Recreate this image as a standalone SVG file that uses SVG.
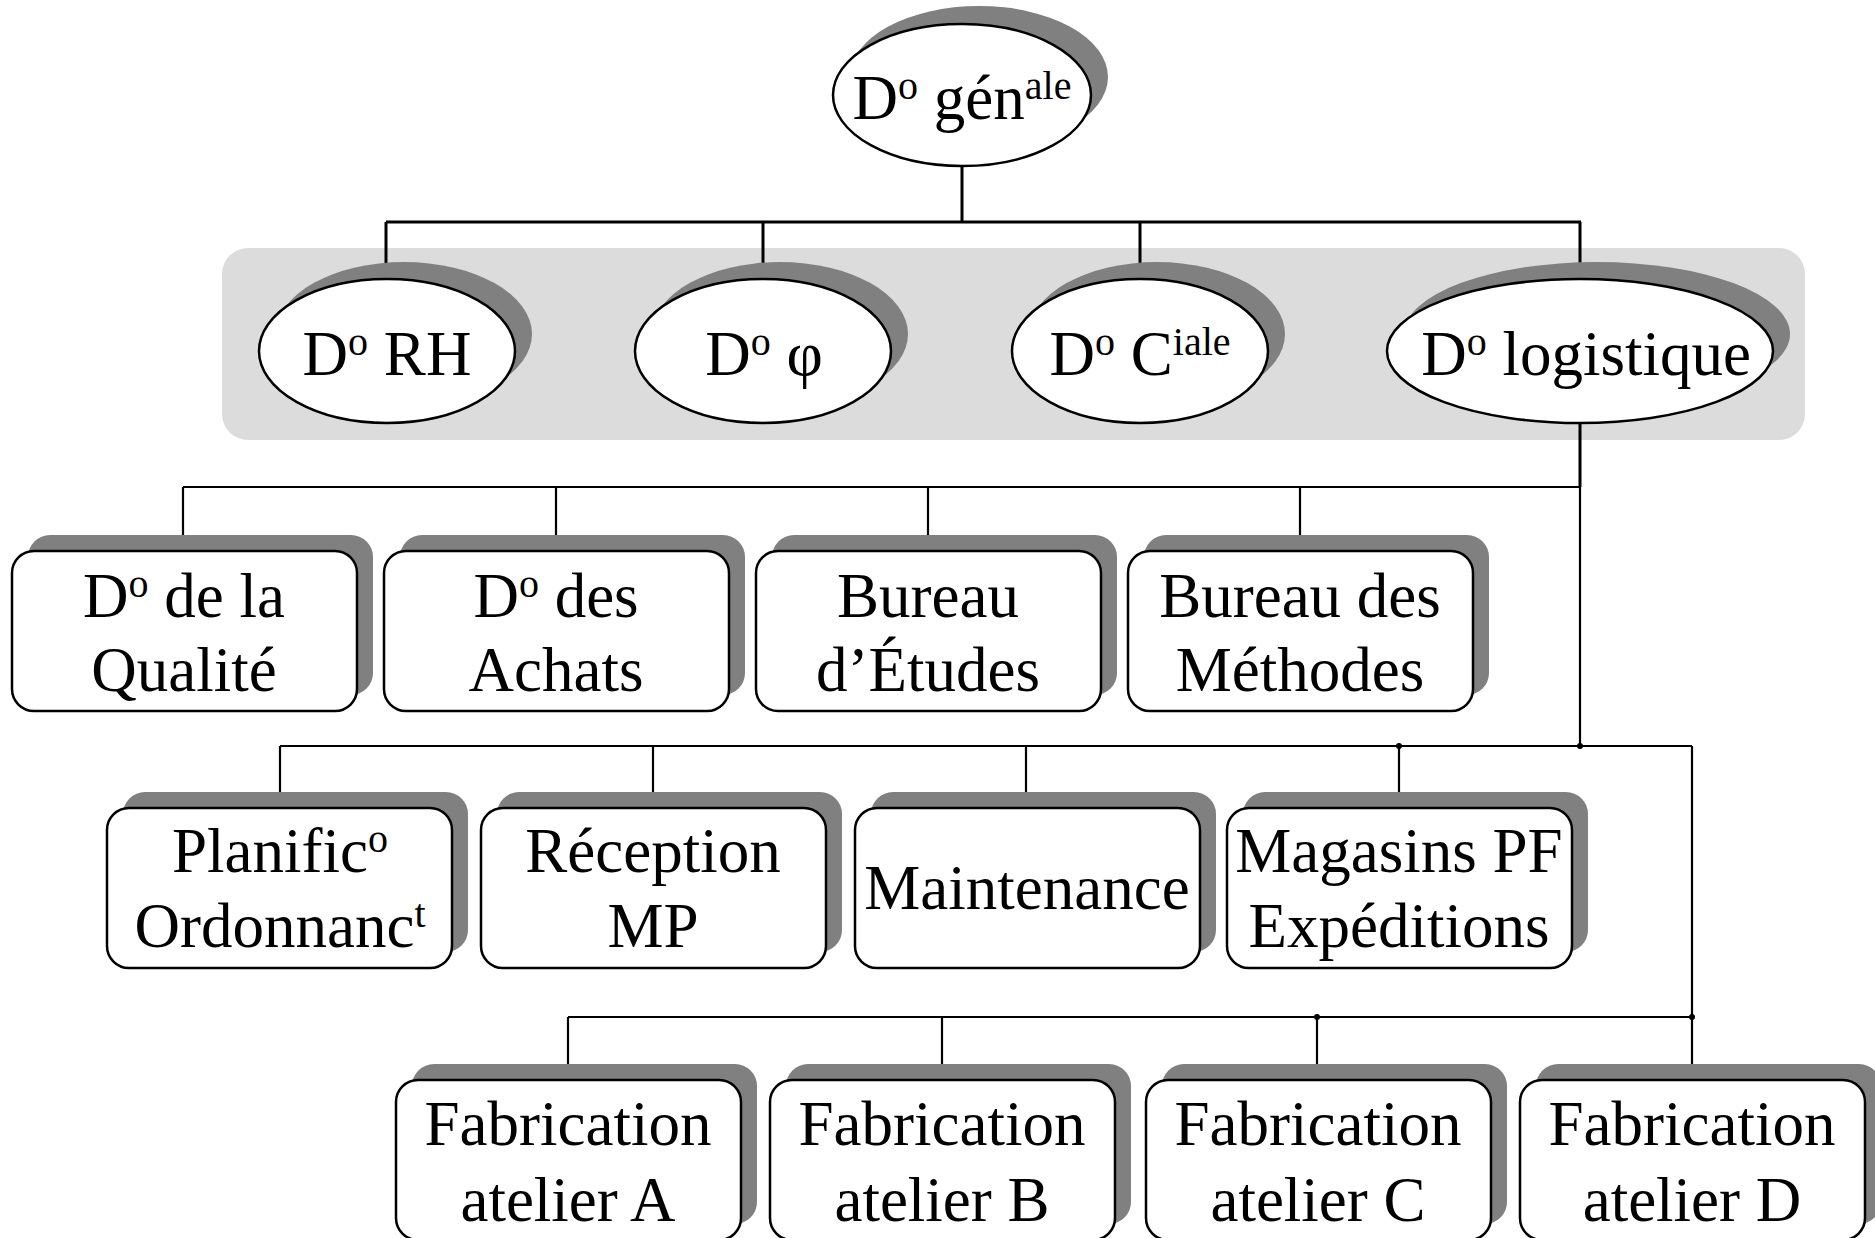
<svg xmlns="http://www.w3.org/2000/svg" width="1875" height="1238" viewBox="0 0 1875 1238">
<style>
  .sh { fill: #808080; }
  .el { fill: #ffffff; stroke: #000000; stroke-width: 2.5; }
  .bx { fill: #ffffff; stroke: #000000; stroke-width: 2.5; }
  .t { font-family: "Liberation Serif", "Times New Roman", serif; font-size: 63px; fill: #000000; text-anchor: middle; }
  .sup { font-size: 40px; }
  .c3 { fill: none; stroke: #000000; stroke-width: 3; }
  .c2 { fill: none; stroke: #000000; stroke-width: 2.2; }
</style>
<rect width="1875" height="1238" fill="#ffffff"/>
<rect id="band" x="222" y="248" width="1583" height="192" rx="26" fill="#dcdcdc"/>

<g id="connectors">
  <path class="c3" d="M962 166 V222 M386 222 H1581 M386 222 V279 M763 222 V279 M1140 222 V279 M1580 222 V279 M1580 423 V487"/>
  <path class="c2" d="M1580 487 V746 M183 487 H1580 M183 487 V551 M556 487 V551 M928 487 V551 M1300 487 V551"/>
  <path class="c2" d="M280 746 H1692 M280 746 V808 M653 746 V808 M1026 746 V808 M1399 746 V808 M1692 746 V1080"/>
  <path class="c2" d="M568 1017 H1692 M568 1017 V1080 M942 1017 V1080 M1317 1017 V1080"/>
  <circle cx="1399" cy="746" r="3"/>
  <circle cx="1580" cy="746" r="3"/>
  <circle cx="1317" cy="1017" r="3"/>
  <circle cx="1692" cy="1017" r="3"/>
</g>

<g id="n_generale">
  <ellipse class="sh" cx="979" cy="77" rx="129" ry="71"/>
  <ellipse class="el" cx="962" cy="95" rx="129" ry="71"/>
  <text class="t" x="962" y="119">D<tspan class="sup" dy="-20">o</tspan><tspan dy="20"> gén</tspan><tspan class="sup" dy="-20">ale</tspan></text>
</g>

<g id="n_rh">
  <ellipse class="sh" cx="404" cy="334" rx="128" ry="72"/>
  <ellipse class="el" cx="387" cy="351" rx="128" ry="72"/>
  <text class="t" x="387" y="375">D<tspan class="sup" dy="-20">o</tspan><tspan dy="20"> RH</tspan></text>
</g>

<g id="n_fin">
  <ellipse class="sh" cx="780" cy="334" rx="128" ry="72"/>
  <ellipse class="el" cx="763" cy="351" rx="128" ry="72"/>
  <text class="t" x="764" y="375">D<tspan class="sup" dy="-20">o</tspan><tspan dy="20"> φ</tspan></text>
</g>

<g id="n_com">
  <ellipse class="sh" cx="1157" cy="334" rx="128" ry="72"/>
  <ellipse class="el" cx="1140" cy="351" rx="128" ry="72"/>
  <text class="t" x="1140" y="375">D<tspan class="sup" dy="-20">o</tspan><tspan dy="20"> C</tspan><tspan class="sup" dy="-20">iale</tspan></text>
</g>

<g id="n_log">
  <ellipse class="sh" cx="1597" cy="334" rx="193" ry="72"/>
  <ellipse class="el" cx="1580" cy="351" rx="193" ry="72"/>
  <text class="t" x="1586" y="375">D<tspan class="sup" dy="-20">o</tspan><tspan dy="20"> logistique</tspan></text>
</g>

<g id="n_qualite">
  <rect class="sh" x="28" y="535" width="345" height="160" rx="22"/>
  <rect class="bx" x="12" y="551" width="345" height="160" rx="22"/>
  <text class="t" x="184" y="617">D<tspan class="sup" dy="-20">o</tspan><tspan dy="20"> de la</tspan></text>
  <text class="t" x="184" y="691">Qualité</text>
</g>

<g id="n_achats">
  <rect class="sh" x="400" y="535" width="345" height="160" rx="22"/>
  <rect class="bx" x="384" y="551" width="345" height="160" rx="22"/>
  <text class="t" x="556" y="617">D<tspan class="sup" dy="-20">o</tspan><tspan dy="20"> des</tspan></text>
  <text class="t" x="556" y="691">Achats</text>
</g>

<g id="n_etudes">
  <rect class="sh" x="772" y="535" width="345" height="160" rx="22"/>
  <rect class="bx" x="756" y="551" width="345" height="160" rx="22"/>
  <text class="t" x="928" y="617">Bureau</text>
  <text class="t" x="928" y="691">d’Études</text>
</g>

<g id="n_methodes">
  <rect class="sh" x="1144" y="535" width="345" height="160" rx="22"/>
  <rect class="bx" x="1128" y="551" width="345" height="160" rx="22"/>
  <text class="t" x="1300" y="617">Bureau des</text>
  <text class="t" x="1300" y="691">Méthodes</text>
</g>

<g id="n_planif">
  <rect class="sh" x="123" y="792" width="345" height="160" rx="22"/>
  <rect class="bx" x="107" y="808" width="345" height="160" rx="22"/>
  <text class="t" x="280" y="872">Planific<tspan class="sup" dy="-20">o</tspan></text>
  <text class="t" x="280" y="947">Ordonnanc<tspan class="sup" dy="-20">t</tspan></text>
</g>

<g id="n_reception">
  <rect class="sh" x="497" y="792" width="345" height="160" rx="22"/>
  <rect class="bx" x="481" y="808" width="345" height="160" rx="22"/>
  <text class="t" x="653" y="872">Réception</text>
  <text class="t" x="653" y="947">MP</text>
</g>

<g id="n_maintenance">
  <rect class="sh" x="871" y="792" width="345" height="160" rx="22"/>
  <rect class="bx" x="855" y="808" width="345" height="160" rx="22"/>
  <text class="t" x="1027" y="909">Maintenance</text>
</g>

<g id="n_magasins">
  <rect class="sh" x="1243" y="792" width="345" height="160" rx="22"/>
  <rect class="bx" x="1227" y="808" width="345" height="160" rx="22"/>
  <text class="t" x="1399" y="872">Magasins PF</text>
  <text class="t" x="1399" y="947">Expéditions</text>
</g>

<g id="n_atelierA">
  <rect class="sh" x="412" y="1064" width="345" height="160" rx="22"/>
  <rect class="bx" x="396" y="1080" width="345" height="160" rx="22"/>
  <text class="t" x="568" y="1145">Fabrication</text>
  <text class="t" x="568" y="1221">atelier A</text>
</g>

<g id="n_atelierB">
  <rect class="sh" x="786" y="1064" width="345" height="160" rx="22"/>
  <rect class="bx" x="770" y="1080" width="345" height="160" rx="22"/>
  <text class="t" x="942" y="1145">Fabrication</text>
  <text class="t" x="942" y="1221">atelier B</text>
</g>

<g id="n_atelierC">
  <rect class="sh" x="1162" y="1064" width="345" height="160" rx="22"/>
  <rect class="bx" x="1146" y="1080" width="345" height="160" rx="22"/>
  <text class="t" x="1318" y="1145">Fabrication</text>
  <text class="t" x="1318" y="1221">atelier C</text>
</g>

<g id="n_atelierD">
  <rect class="sh" x="1536" y="1064" width="345" height="160" rx="22"/>
  <rect class="bx" x="1520" y="1080" width="345" height="160" rx="22"/>
  <text class="t" x="1692" y="1145">Fabrication</text>
  <text class="t" x="1692" y="1221">atelier D</text>
</g>
</svg>
